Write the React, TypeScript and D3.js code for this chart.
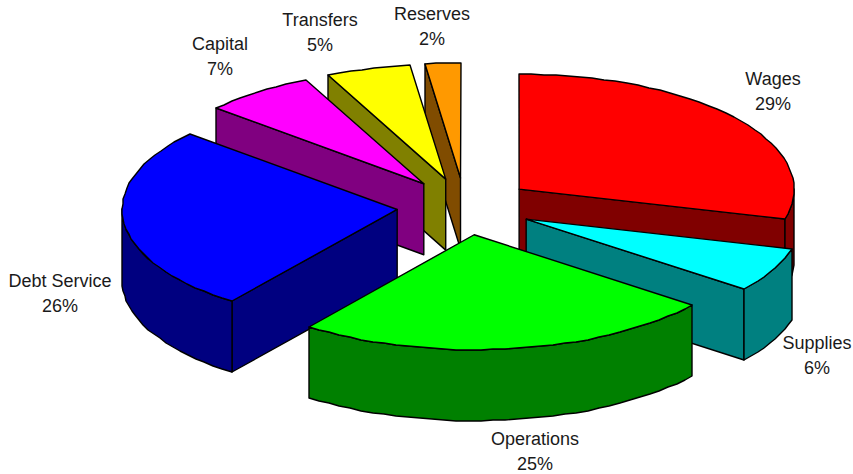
import React from 'react'
import * as d3 from 'd3'

const categories = ['Wages', 'Supplies', 'Operations', 'Debt Service', 'Capital', 'Transfers', 'Reserves']
// the labels show them rounded
const values = [29.17, 6.25, 24.86, 26.11, 6.58, 4.94, 2.09]
const topColors = ['#ff0000', '#00ffff', '#00ff00', '#0000ff', '#ff00ff', '#ffff00', '#ff9900']
const wallColors = ['#800000', '#008080', '#008000', '#000080', '#800080', '#808000', '#804c00']

// painter's order, back of the pie first
const drawOrder = [6, 5, 4, 3, 0, 1, 2]

const width = 853
const height = 474
const rx = 275
const ry = 115
const depth = 71
const explode = 0.248
const cx = 465
const cy = 206.5

// label centres, one per category
const labelX = [773, 817, 535, 60, 220, 320, 432]
const labelY = [79, 343, 439, 281, 44, 20, 14]

const x = d3.scaleLinear().domain([-1, 1]).range([cx - rx, cx + rx])
const y = d3.scaleLinear().domain([-1, 1]).range([cy - ry, cy + ry])

const arcs = d3.pie<number>().sort(null).startAngle(0).endAngle(2 * Math.PI)(values)

type Pt = [number, number]
const line = d3.line<Pt>().x(d => d[0]).y(d => d[1])

function sliceGeom(a0: number, a1: number) {
  const mid = (a0 + a1) / 2
  const dx = x(explode * Math.sin(mid)) - x(0)
  const dy = y(-explode * Math.cos(mid)) - y(0)
  const pt = (a: number, down = 0): Pt => [
    Math.round(x(Math.sin(a)) + dx),
    Math.round(y(-Math.cos(a)) + dy + down),
  ]
  const apex = (down = 0): Pt => [x(0) + dx, y(0) + dy + down]
  const rim = (from: number, to: number, down = 0) => {
    const step = (2.6 * Math.PI) / 180
    const n = Math.max(1, Math.ceil((to - from) / step))
    return d3.range(n + 1).map(i => pt(from + ((to - from) * i) / n, down))
  }
  return { pt, apex, rim }
}

function Slice({ index }: { index: number }) {
  const { startAngle: a0, endAngle: a1 } = arcs[index]
  const { pt, apex, rim } = sliceGeom(a0, a1)
  const stroke = { stroke: '#000', strokeWidth: 1.4, strokeLinejoin: 'round' as const }
  const wall = wallColors[index]
  const faces: Pt[][] = []

  // cut faces that look towards the viewer
  if (Math.sin(a0) < -1e-6) faces.push([apex(), pt(a0), pt(a0, depth), apex(depth)])
  if (Math.sin(a1) > 1e-6) faces.push([apex(), pt(a1), pt(a1, depth), apex(depth)])

  // outer wall, only the front half of the rim
  const from = Math.max(a0, Math.PI / 2)
  const to = Math.min(a1, (3 * Math.PI) / 2)
  if (to > from) faces.push([...rim(from, to), ...rim(from, to, depth).reverse()])

  return (
    <g>
      {faces.map((f, i) => (
        <path key={i} d={line(f) + 'Z'} fill={wall} {...stroke} />
      ))}
      <path d={line([apex(), ...rim(a0, a1)]) + 'Z'} fill={topColors[index]} {...stroke} />
    </g>
  )
}

export default function App() {
  return (
    <svg
      width={width}
      height={height}
      style={{ position: 'absolute', left: 0, top: 0, background: '#fff' }}
      fontFamily="'Liberation Sans', Arial, sans-serif"
      fontSize={18}
      fill="#1a1a1a"
    >
      {drawOrder.map(i => (
        <Slice key={categories[i]} index={i} />
      ))}
      {categories.map((c, i) => (
        <text key={c} textAnchor="middle">
          <tspan x={labelX[i]} y={labelY[i] + 6}>{c}</tspan>
          <tspan x={labelX[i]} y={labelY[i] + 31}>{Math.round(values[i])}%</tspan>
        </text>
      ))}
    </svg>
  )
}
